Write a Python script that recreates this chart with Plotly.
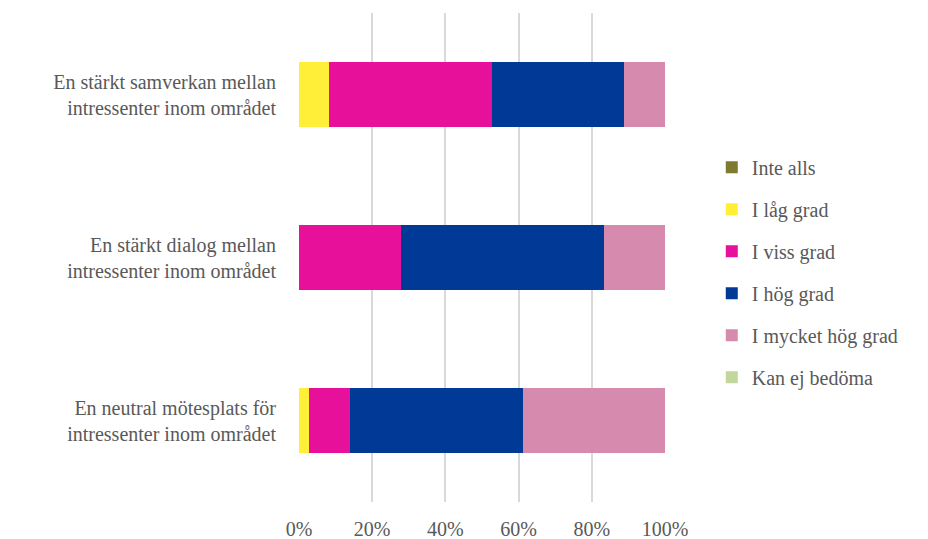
import plotly.graph_objects as go

categories = [
    "En stärkt samverkan mellan<br>intressenter inom området",
    "En stärkt dialog mellan<br>intressenter inom området",
    "En neutral mötesplats för<br>intressenter inom området",
]
series_names = ["Inte alls", "I låg grad", "I viss grad", "I hög grad", "I mycket hög grad", "Kan ej bedöma"]
inte_alls = [0.0, 0.0, 0.0]
lag_grad = [8.3, 0.0, 2.8]
viss_grad = [44.4, 27.8, 11.1]
hog_grad = [36.1, 55.6, 47.2]
mycket_hog = [11.2, 16.6, 38.9]
kan_ej = [0.0, 0.0, 0.0]
values = [inte_alls, lag_grad, viss_grad, hog_grad, mycket_hog, kan_ej]
colors = ["#7E7A30", "#FFEF38", "#E6109A", "#003A96", "#D68BAE", "#C3D69B"]
tick_vals = [0, 20, 40, 60, 80, 100]
tick_text = ["0%", "20%", "40%", "60%", "80%", "100%"]

FONT = "Liberation Serif"
GREY = "#595959"

fig = go.Figure()
for name, vals, col in zip(series_names, values, colors):
    fig.add_trace(go.Bar(
        y=categories, x=vals, name=name, orientation="h",
        marker=dict(color=col, line=dict(width=0)),
        legendgroup=name,
    ))

fig.update_layout(
    barmode="stack",
    bargap=0.6,
    width=928, height=539,
    margin=dict(l=299, r=263, t=13, b=37, autoexpand=False),
    plot_bgcolor="white", paper_bgcolor="white",
    font=dict(family=FONT, size=20, color=GREY),
    legend=dict(
        xref="container", yref="container",
        x=0.767, y=0.495, xanchor="left", yanchor="middle",
        traceorder="grouped", tracegroupgap=13,
        font=dict(family=FONT, size=20, color=GREY),
        itemclick=False,
    ),
    xaxis=dict(
        range=[0, 100], tickvals=tick_vals, ticktext=tick_text,
        showgrid=True, gridcolor="#D9D9D9", gridwidth=1.5,
        zeroline=False, showline=False,
        ticklabelstandoff=13,
        tickfont=dict(family=FONT, size=20, color=GREY),
    ),
    yaxis=dict(
        autorange="reversed", showgrid=False, showline=False,
        ticklabelstandoff=22,
        tickfont=dict(family=FONT, size=20, color=GREY),
    ),
)

fig.write_html(
    "out.html",
    config={"displayModeBar": False},
    post_script="document.body.style.margin='0';",
)
